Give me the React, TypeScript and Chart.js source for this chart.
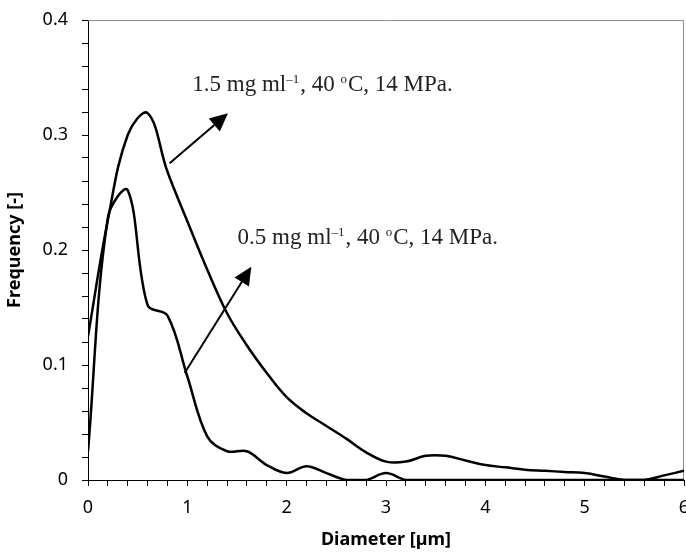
import { useEffect, useRef } from 'react';
import { Chart, registerables } from 'chart.js';

Chart.register(...registerables);

// Diameter [µm]
const diameters = [
  0, 0.2, 0.4, 0.6, 0.8, 1.0, 1.2, 1.4, 1.6, 1.8, 2.0, 2.2, 2.4, 2.6, 2.8, 3.0,
  3.2, 3.4, 3.6, 3.8, 4.0, 4.2, 4.4, 4.6, 4.8, 5.0, 5.2, 5.4, 5.6, 5.8, 6.0,
];

// 1.5 mg ml-1, 40 oC, 14 MPa
const freq15 = [
  0.125, 0.226, 0.3, 0.319, 0.268, 0.225, 0.183, 0.145, 0.117, 0.093, 0.072,
  0.058, 0.047, 0.036, 0.024, 0.016, 0.016, 0.021, 0.021, 0.017, 0.013, 0.011,
  0.009, 0.008, 0.007, 0.006, 0.003, 0.0, 0.0, 0.004, 0.008,
];

// 0.5 mg ml-1, 40 oC, 14 MPa
const freq05 = [
  0.025, 0.228, 0.252, 0.152, 0.143, 0.09, 0.038, 0.025, 0.025, 0.013, 0.006,
  0.012, 0.006, 0.0, 0.0, 0.006, 0.0, 0.0, 0.0, 0.0, 0.0, 0.0, 0.0, 0.0, 0.0,
  0.0, 0.0, 0.0, 0.0, 0.0, 0.0,
];

const xTickLabels = ['0', '1', '2', '3', '4', '5', '6'];
const yTickLabels = ['0', '0.1', '0.2', '0.3', '0.4'];

type Seg = { t: string; sup?: boolean };
const label15: Seg[] = [
  { t: '1.5 mg ml' }, { t: '\u20131', sup: true }, { t: ', 40 ' }, { t: 'o', sup: true }, { t: 'C, 14 MPa.' },
];
const label05: Seg[] = [
  { t: '0.5 mg ml' }, { t: '\u20131', sup: true }, { t: ', 40 ' }, { t: 'o', sup: true }, { t: 'C, 14 MPa.' },
];

// annotation anchors in data coordinates
const arrows = [
  { from: [0.822, 0.2754], to: [1.409, 0.3189] },
  { from: [0.973, 0.093], to: [1.644, 0.1855] },
];
const notes = [
  { at: [1.05, 0.3435], segs: label15 },
  { at: [1.506, 0.2109], segs: label05 },
];

const SERIF = '"Liberation Serif", "DejaVu Serif", serif';
const SANS = '"Noto Sans", "Open Sans", sans-serif';

const framePlugin = {
  id: 'frame',
  beforeDatasetsDraw(chart: any) {
    const { ctx, chartArea: a } = chart;
    ctx.save();
    ctx.strokeStyle = '#8c8c8c';
    ctx.lineWidth = 1;
    ctx.beginPath();
    ctx.moveTo(a.left, a.top + 0.5);
    ctx.lineTo(a.right - 0.5, a.top + 0.5);
    ctx.lineTo(a.right - 0.5, a.bottom);
    ctx.stroke();
    ctx.restore();
  },
};

const annotationPlugin = {
  id: 'notes',
  afterDatasetsDraw(chart: any) {
    const { ctx } = chart;
    const xs = chart.scales.x;
    const ys = chart.scales.y;
    ctx.save();
    ctx.strokeStyle = '#000';
    ctx.fillStyle = '#000';
    ctx.lineWidth = 2;
    for (const ar of arrows) {
      const x1 = xs.getPixelForValue(ar.from[0]);
      const y1 = ys.getPixelForValue(ar.from[1]);
      const x2 = xs.getPixelForValue(ar.to[0]);
      const y2 = ys.getPixelForValue(ar.to[1]);
      const ang = Math.atan2(y2 - y1, x2 - x1);
      const hl = 18;
      const hw = 8.5;
      const bx = x2 - hl * Math.cos(ang);
      const by = y2 - hl * Math.sin(ang);
      ctx.beginPath();
      ctx.moveTo(x1, y1);
      ctx.lineTo(bx, by);
      ctx.stroke();
      ctx.beginPath();
      ctx.moveTo(x2, y2);
      ctx.lineTo(bx + hw * Math.sin(ang), by - hw * Math.cos(ang));
      ctx.lineTo(bx - hw * Math.sin(ang), by + hw * Math.cos(ang));
      ctx.closePath();
      ctx.fill();
    }
    ctx.textBaseline = 'middle';
    ctx.textAlign = 'left';
    for (const n of notes) {
      let x = xs.getPixelForValue(n.at[0]);
      const y = ys.getPixelForValue(n.at[1]);
      for (const s of n.segs) {
        ctx.font = s.sup ? `13px ${SERIF}` : `23px ${SERIF}`;
        ctx.fillStyle = '#222';
        ctx.fillText(s.t, x, s.sup ? y - 5 : y);
        x += ctx.measureText(s.t).width + (s.sup ? 1 : 0);
      }
    }
    ctx.restore();
  },
};

export default function App() {
  const ref = useRef<HTMLCanvasElement | null>(null);
  useEffect(() => {
    if (!ref.current) return;
    const chart = new Chart(ref.current, {
      type: 'line',
      data: {
        datasets: [
          {
            label: '1.5 mg ml-1',
            data: diameters.map((d, i) => ({ x: d, y: freq15[i] })),
            borderColor: '#000',
            borderWidth: 2.5,
            pointRadius: 0,
            tension: 0.38,
            fill: false,
          },
          {
            label: '0.5 mg ml-1',
            data: diameters.map((d, i) => ({ x: d, y: freq05[i] })),
            borderColor: '#000',
            borderWidth: 2.5,
            pointRadius: 0,
            tension: 0.35,
            fill: false,
          },
        ],
      },
      options: {
        responsive: false,
        animation: false,
        devicePixelRatio: 1,
        layout: { padding: { top: 20, right: 2, left: 0, bottom: 0 } },
        plugins: { legend: { display: false }, tooltip: { enabled: false } },
        scales: {
          x: {
            type: 'linear',
            min: 0,
            max: 6,
            ticks: {
              stepSize: 0.2,
              autoSkip: false,
              maxRotation: 0,
              padding: 11,
              color: '#000',
              font: { family: SANS, size: 18 },
              callback: (v: any) => {
                const r = Math.round(Number(v));
                return Math.abs(Number(v) - r) < 1e-6 ? xTickLabels[r] : '';
              },
            },
            grid: { display: true, drawOnChartArea: false, drawTicks: true, tickLength: 6, color: '#000', lineWidth: 1 },
            border: { display: true, color: '#000', width: 1 },
            title: {
              display: true,
              text: 'Diameter [\u00b5m]',
              color: '#000',
              padding: { top: 4, bottom: 1 },
              font: { family: SANS, size: 18, weight: 'bold' },
            },
            afterFit: (s: any) => { s.height = 72; s.paddingLeft = 0; s.paddingRight = 0; },
          },
          y: {
            type: 'linear',
            min: 0,
            max: 0.4,
            ticks: {
              stepSize: 0.02,
              autoSkip: false,
              padding: 14,
              color: '#000',
              font: { family: SANS, size: 18 },
              callback: (v: any) => {
                const k = Math.round(Number(v) * 100);
                return k % 10 === 0 ? yTickLabels[k / 10] : '';
              },
            },
            grid: { display: true, drawOnChartArea: false, drawTicks: true, tickLength: 6, color: '#000', lineWidth: 1 },
            border: { display: true, color: '#000', width: 1 },
            title: { display: true, text: 'Frequency [-]', color: '#000', font: { family: SANS, size: 18, weight: 'bold' } },
            afterFit: (s: any) => { s.width = 88; s.paddingTop = 0; s.paddingBottom = 0; },
          },
        },
      } as any,
      plugins: [framePlugin, annotationPlugin],
    });
    return () => chart.destroy();
  }, []);
  return (
    <div style={{ position: 'fixed', left: 0, top: 0, width: 686, height: 552, background: '#fff' }}>
      <canvas ref={ref} width={686} height={552} style={{ width: 686, height: 552, display: 'block' }} />
    </div>
  );
}
